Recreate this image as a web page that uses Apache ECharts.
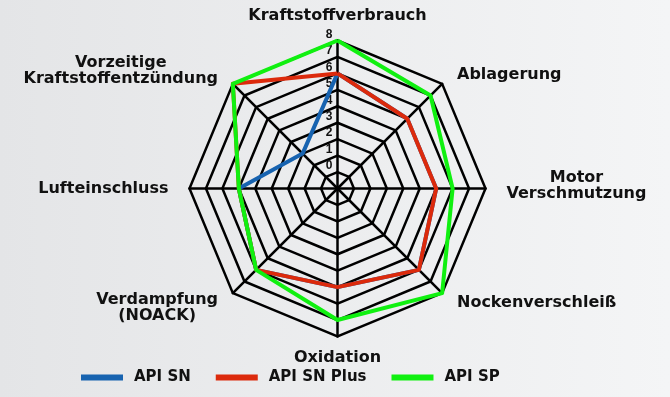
<!doctype html>
<html>
<head>
<meta charset="utf-8">
<title>Motoröl Radar</title>
<script src="https://cdn.jsdelivr.net/npm/echarts@6/dist/echarts.min.js"></script>
<style>
html, body { margin: 0; padding: 0; }
body { background: linear-gradient(to right, #e4e5e7, #f4f5f6); }
#chart { width: 670px; height: 397px; }
</style>
</head>
<body>
<div id="chart"></div>
<script>
// axes, counter-clockwise from the top (the way echarts lays them out)
var categories = ['Kraftstoffverbrauch', 'Vorzeitige\nKraftstoffentzündung', 'Lufteinschluss',
    'Verdampfung\n(NOACK)', 'Oxidation', 'Nockenverschleiß', 'Motor\nVerschmutzung', 'Ablagerung'];
var seriesNames = ['API SN', 'API SN Plus', 'API SP'];
var valSN = [6, 2, 5, 6, 5, 6, 5, 5];
var valSNPlus = [6, 8, 5, 6, 5, 6, 5, 5];
var valSP = [8, 8, 5, 6, 7, 8, 6, 7];
// scale: centre is one ring below 0
var scaleMin = -1;
var scaleMax = 8;

var colors = ['#1763b0', '#dc2a0c', '#10f010'];
var font = 'DejaVu Sans';

// small nudges for single labels (top, bottom padding of the text box)
var namePad = {
    'Ablagerung': [12, 0, 0, 0],
    'Motor\nVerschmutzung': [0, 0, 6, 0],
    'Nockenverschleiß': [0, 0, 10, 0],
    'Vorzeitige\nKraftstoffentzündung': [4, 0, 0, 0]
};

var indicator = categories.map(function (name, i) {
    var ind = { name: name, min: scaleMin, max: scaleMax };
    if (i === 0) {
        ind.axisLabel = {
            show: true,
            color: '#111',
            fontFamily: 'Liberation Sans Narrow, Liberation Sans',
            fontWeight: 'bold',
            fontSize: 12,
            margin: 5,
            verticalAlign: 'bottom',
            formatter: function (v) { return v < 0 ? '' : v; }
        };
    }
    return ind;
});

var rich = {};
categories.forEach(function (name, i) {
    rich['n' + i] = {
        align: 'center', fontFamily: font, fontWeight: 'bold', fontSize: 16, color: '#111',
        lineHeight: 16, padding: namePad[name] || [0, 0, 0, 0]
    };
});
rich.n0.lineHeight = 8;
rich.n4.lineHeight = 0;

var chart = echarts.init(document.getElementById('chart'));
var option = {
    animation: false,
    color: colors,
    legend: {
        data: seriesNames,
        left: 81,
        top: 370,
        padding: 0,
        itemWidth: 42,
        itemHeight: 6,
        itemGap: 25,
        icon: 'rect',
        textStyle: { color: '#111', fontFamily: font, fontWeight: 'bold', fontSize: 15, padding: [0, 0, 0, 6] }
    },
    radar: {
        center: [337.5, 188.5],
        radius: 148,
        splitNumber: 9,
        shape: 'polygon',
        nameGap: 21,
        indicator: indicator,
        axisName: {
            color: '#111',
            fontFamily: font,
            fontWeight: 'bold',
            fontSize: 16,
            formatter: function (name) {
                var i = categories.indexOf(name);
                return name.split('\n').map(function (s) {
                    return '{n' + i + '|' + s + '}';
                }).join('\n');
            },
            rich: rich
        },
        axisLine: { lineStyle: { color: '#000', width: 2.5 } },
        splitLine: { lineStyle: { color: '#000', width: 2.5 } },
        splitArea: { show: false },
        axisLabel: { show: false }
    },
    series: [{
        type: 'radar',
        symbol: 'none',
        data: [
            { name: seriesNames[0], value: valSN, lineStyle: { width: 4, color: colors[0] } },
            { name: seriesNames[1], value: valSNPlus, lineStyle: { width: 4, color: colors[1] } },
            { name: seriesNames[2], value: valSP, lineStyle: { width: 4, color: colors[2] } }
        ]
    }]
};
chart.setOption(option);
</script>
</body>
</html>
